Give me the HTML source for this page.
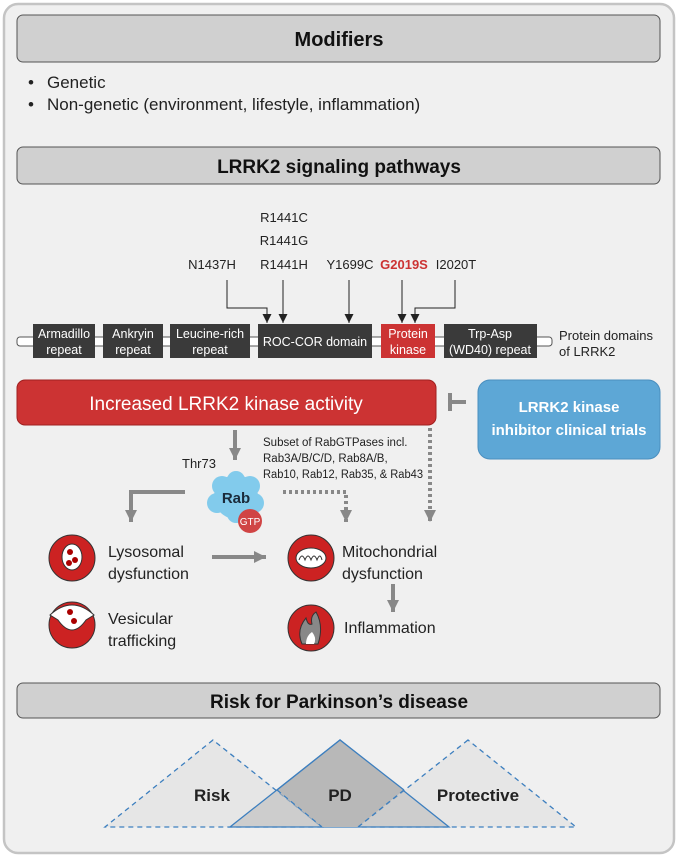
<!DOCTYPE html>
<html><head><meta charset="utf-8"><style>
body{margin:0;background:#fff;}
svg{display:block;font-family:"Liberation Sans",sans-serif;}
</style></head><body>
<svg width="678" height="857" viewBox="0 0 678 857" xmlns="http://www.w3.org/2000/svg">
<defs>
<marker id="ab" viewBox="0 0 10 10" markerWidth="9" markerHeight="9" refX="10" refY="5" orient="auto" markerUnits="userSpaceOnUse"><path d="M0,0 L10,5 L0,10 z" fill="#222"/></marker>
<marker id="ag" viewBox="0 0 10 10" markerWidth="12" markerHeight="12" refX="10" refY="5" orient="auto" markerUnits="userSpaceOnUse"><path d="M0,0 L10,5 L0,10 z" fill="#888"/></marker>
</defs>
<rect x="4" y="4" width="670" height="849" rx="14" fill="#f0f0f0" stroke="#c4c4c4" stroke-width="2.5"/>
<rect x="17" y="15" width="643" height="47" rx="6" fill="#d0d0d0" stroke="#555"/>
<text x="339" y="46" text-anchor="middle" font-size="20" font-weight="bold" fill="#111">Modifiers</text>
<text x="28" y="88" font-size="17" fill="#222">•</text><text x="47" y="88" font-size="17" fill="#222">Genetic</text>
<text x="28" y="110" font-size="17" fill="#222">•</text><text x="47" y="110" font-size="17" fill="#222">Non-genetic (environment, lifestyle, inflammation)</text>
<rect x="17" y="147" width="643" height="37" rx="6" fill="#d0d0d0" stroke="#555"/>
<text x="339" y="173" text-anchor="middle" font-size="19" font-weight="bold" fill="#111">LRRK2 signaling pathways</text>
<g font-size="13" fill="#222" text-anchor="middle">
<text x="284" y="222">R1441C</text><text x="284" y="245">R1441G</text>
<text x="212" y="269">N1437H</text><text x="284" y="269">R1441H</text><text x="350" y="269">Y1699C</text>
<text x="404" y="269" fill="#cc3333" font-weight="bold">G2019S</text><text x="456" y="269">I2020T</text>
</g>
<g stroke="#222" stroke-width="1" fill="none">
<polyline points="227,280 227,308 267,308 267,323" marker-end="url(#ab)"/>
<line x1="283" y1="280" x2="283" y2="323" marker-end="url(#ab)"/>
<line x1="349" y1="280" x2="349" y2="323" marker-end="url(#ab)"/>
<line x1="402" y1="280" x2="402" y2="323" marker-end="url(#ab)"/>
<polyline points="455,280 455,308 415,308 415,323" marker-end="url(#ab)"/>
</g>
<rect x="17" y="337" width="535" height="9" rx="3" fill="#fff" stroke="#555"/>
<g fill="#3a3a3a">
<rect x="33" y="324" width="62" height="34"/><rect x="103" y="324" width="60" height="34"/>
<rect x="170" y="324" width="80" height="34"/><rect x="258" y="324" width="114" height="34"/>
<rect x="381" y="324" width="54" height="34" fill="#cc3333"/><rect x="444" y="324" width="93" height="34"/>
</g>
<g font-size="12.5" fill="#fff" text-anchor="middle">
<text x="64" y="338">Armadillo</text><text x="64" y="354">repeat</text>
<text x="133" y="338">Ankryin</text><text x="133" y="354">repeat</text>
<text x="210" y="338">Leucine-rich</text><text x="210" y="354">repeat</text>
<text x="315" y="346">ROC-COR domain</text>
<text x="408" y="338">Protein</text><text x="408" y="354">kinase</text>
<text x="490" y="338">Trp-Asp</text><text x="490" y="354">(WD40) repeat</text>
</g>
<text x="559" y="340" font-size="13" fill="#222">Protein domains</text>
<text x="559" y="356" font-size="13" fill="#222">of LRRK2</text>
<rect x="17" y="380" width="419" height="45" rx="8" fill="#cc3333" stroke="#a02020"/>
<text x="226" y="410" text-anchor="middle" font-size="19" fill="#fff">Increased LRRK2 kinase activity</text>
<line x1="450" y1="402" x2="466" y2="402" stroke="#888" stroke-width="4"/>
<line x1="450" y1="393" x2="450" y2="411" stroke="#888" stroke-width="4"/>
<rect x="478" y="380" width="182" height="79" rx="12" fill="#5da7d6" stroke="#4a8fbf"/>
<text x="569" y="412" text-anchor="middle" font-size="15" font-weight="bold" fill="#fff">LRRK2 kinase</text>
<text x="569" y="435" text-anchor="middle" font-size="15" font-weight="bold" fill="#fff">inhibitor clinical trials</text>
<line x1="235" y1="430" x2="235" y2="460" stroke="#888" stroke-width="4" marker-end="url(#ag)"/>
<text x="182" y="468" font-size="13" fill="#222">Thr73</text>
<g font-size="11.5" fill="#222"><text x="263" y="446">Subset of RabGTPases incl.</text><text x="263" y="462">Rab3A/B/C/D, Rab8A/B,</text><text x="263" y="478" textLength="160" lengthAdjust="spacingAndGlyphs">Rab10, Rab12, Rab35, &amp; Rab43</text></g>
<g fill="#82cbec">
<circle cx="236" cy="497" r="22"/><circle cx="222" cy="486" r="10"/><circle cx="250" cy="486" r="10"/><circle cx="217" cy="503" r="10"/><circle cx="254" cy="503" r="10"/><circle cx="236" cy="480" r="9"/><circle cx="236" cy="514" r="9"/>
</g>
<text x="236" y="503" text-anchor="middle" font-size="15" font-weight="bold" fill="#1a2a3a">Rab</text>
<circle cx="250" cy="521" r="12" fill="#d04444"/>
<text x="250" y="525" text-anchor="middle" font-size="10" fill="#fff">GTP</text>
<polyline points="185,492 131,492 131,522" fill="none" stroke="#888" stroke-width="4" marker-end="url(#ag)"/>
<polyline points="283,492 346,492 346,522" fill="none" stroke="#888" stroke-width="4" stroke-dasharray="3,3" marker-end="url(#ag)"/>
<line x1="430" y1="428" x2="430" y2="522" stroke="#888" stroke-width="4" stroke-dasharray="3,3" marker-end="url(#ag)"/>
<circle cx="72" cy="558" r="23" fill="#cc2222" stroke="#333"/><ellipse cx="72" cy="557" rx="10" ry="13" fill="#fff" stroke="#333"/><circle cx="70" cy="552" r="3" fill="#a00"/><circle cx="75" cy="560" r="3" fill="#a00"/><circle cx="69" cy="563" r="3" fill="#a00"/>
<circle cx="311" cy="558" r="23" fill="#cc2222" stroke="#333"/><ellipse cx="311" cy="558" rx="15" ry="10" fill="#fff" stroke="#333"/><path d="M299,560 q3,-8 6,0 q3,-8 6,0 q3,-8 6,0 q3,-8 5,0" fill="none" stroke="#333"/>
<circle cx="72" cy="625" r="23" fill="#cc2222" stroke="#333"/><path d="M50,615 Q72,595 94,615 L86,620 Q72,640 58,620 z" fill="#fff" stroke="#333"/><circle cx="70" cy="612" r="3" fill="#a00"/><circle cx="74" cy="621" r="3" fill="#a00"/>
<circle cx="311" cy="628" r="23" fill="#cc2222" stroke="#333"/><path d="M302,644 q-6,-14 4,-26 q2,8 6,6 q-2,-8 4,-12 q8,14 2,32 z" fill="#888" stroke="#333"/><path d="M306,644 q0,-8 6,-12 q5,6 2,12 z" fill="#fff"/>
<g font-size="16" fill="#222">
<text x="108" y="557">Lysosomal</text><text x="108" y="579">dysfunction</text>
<text x="342" y="557">Mitochondrial</text><text x="342" y="579">dysfunction</text>
<text x="108" y="624">Vesicular</text><text x="108" y="646">trafficking</text>
<text x="344" y="633">Inflammation</text>
</g>
<line x1="212" y1="557" x2="266" y2="557" stroke="#888" stroke-width="4" marker-end="url(#ag)"/>
<line x1="393" y1="584" x2="393" y2="612" stroke="#888" stroke-width="4" marker-end="url(#ag)"/>
<rect x="17" y="683" width="643" height="35" rx="6" fill="#d0d0d0" stroke="#555"/>
<text x="339" y="708" text-anchor="middle" font-size="19" font-weight="bold" fill="#111">Risk for Parkinson’s disease</text>
<polygon points="213,740 105,827 322,827" fill="#e6e6e6" stroke="#3d7fbf" stroke-width="1.3" stroke-dasharray="5,4"/>
<polygon points="468,740 358,827 576,827" fill="#e6e6e6" stroke="#3d7fbf" stroke-width="1.3" stroke-dasharray="5,4"/>
<polygon points="340,740 230,827 449,827" fill="#bdbdbd" fill-opacity="0.6" stroke="#3d7fbf" stroke-width="1.3"/>
<polygon points="340,740 277,790 322,827 358,827 404,790" fill="#b8b8b8"/>
<polyline points="277,790 322,827" fill="none" stroke="#3d7fbf" stroke-width="1.3" stroke-dasharray="5,4"/>
<polyline points="404,790 358,827" fill="none" stroke="#3d7fbf" stroke-width="1.3" stroke-dasharray="5,4"/>
<polyline points="277,790 340,740 404,790" fill="none" stroke="#3d7fbf" stroke-width="1.3"/>
<g font-size="17" font-weight="bold" fill="#222" text-anchor="middle">
<text x="212" y="801">Risk</text><text x="340" y="801">PD</text><text x="478" y="801">Protective</text>
</g>
</svg>
</body></html>
